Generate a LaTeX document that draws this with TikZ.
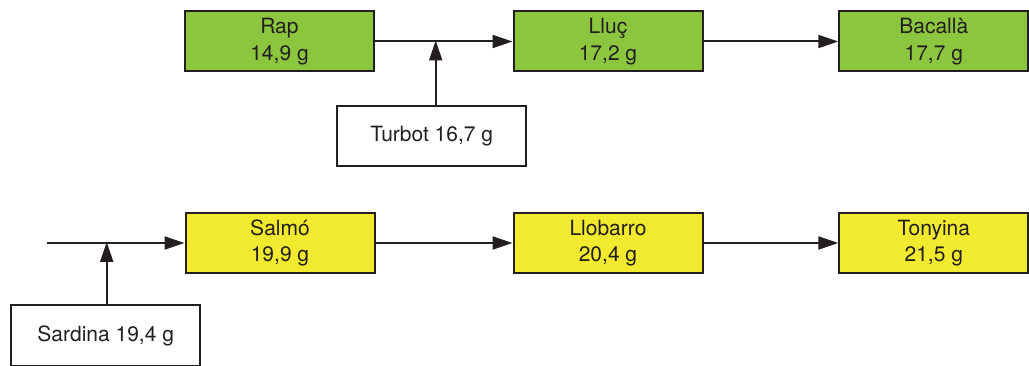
\documentclass[tikz,border=0pt]{standalone}
\usepackage{fontspec}
\setmainfont{TeX Gyre Heros}
\usetikzlibrary{arrows.meta}
\definecolor{fgreen}{HTML}{8CC63F}
\definecolor{fyellow}{HTML}{F2EA2E}
\definecolor{ink}{HTML}{231F20}
\tikzset{
  fishbox/.style={draw=ink, line width=2pt, minimum width=189pt, minimum height=60pt,
    inner sep=0pt, align=center, text=ink,
    font=\fontsize{21pt}{26.5pt}\selectfont},
  greenbox/.style={fishbox, fill=fgreen},
  yellowbox/.style={fishbox, fill=fyellow},
  whitebox/.style={fishbox, fill=white},
  arr/.style={draw=ink, line width=2pt, -{Triangle[length=20pt,width=13pt]}},
  ln/.style={draw=ink, line width=2pt}
}
\begin{document}
\begin{tikzpicture}[x=1pt,y=-1pt]
\useasboundingbox (0,0) rectangle (1029,366);
% top row
\node[greenbox] (rap) at (279.5,41.5) {Rap\\14,9 g};
\node[greenbox] (lluc) at (608,41.5) {Lluç\\17,2 g};
\node[greenbox] (bacalla) at (933.8,41.5) {Bacallà\\17,7 g};
\node[whitebox] (turbot) at (431.7,136) {Turbot 16,7 g};
\draw[arr] (rap.east) -- (lluc.west);
\draw[arr] (lluc.east) -- (bacalla.west);
\coordinate (j1) at (435.7,41.5);
\draw[arr, shorten >=-1pt] (turbot.north -| j1) -- (j1);
% bottom row
\node[yellowbox] (salmo) at (280,243) {Salmó\\19,9 g};
\node[yellowbox] (llobarro) at (608,243) {Llobarro\\20,4 g};
\node[yellowbox] (tonyina) at (933.8,243) {Tonyina\\21,5 g};
\node[whitebox] (sardina) at (105.7,335.5) {Sardina 19,4 g};
\coordinate (s0) at (46.7,243);
\coordinate (j2) at (106.7,243);
\draw[arr] (s0) -- (salmo.west);
\draw[arr] (salmo.east) -- (llobarro.west);
\draw[arr] (llobarro.east) -- (tonyina.west);
\draw[arr, shorten >=-1pt] (sardina.north -| j2) -- (j2);
\end{tikzpicture}
\end{document}
